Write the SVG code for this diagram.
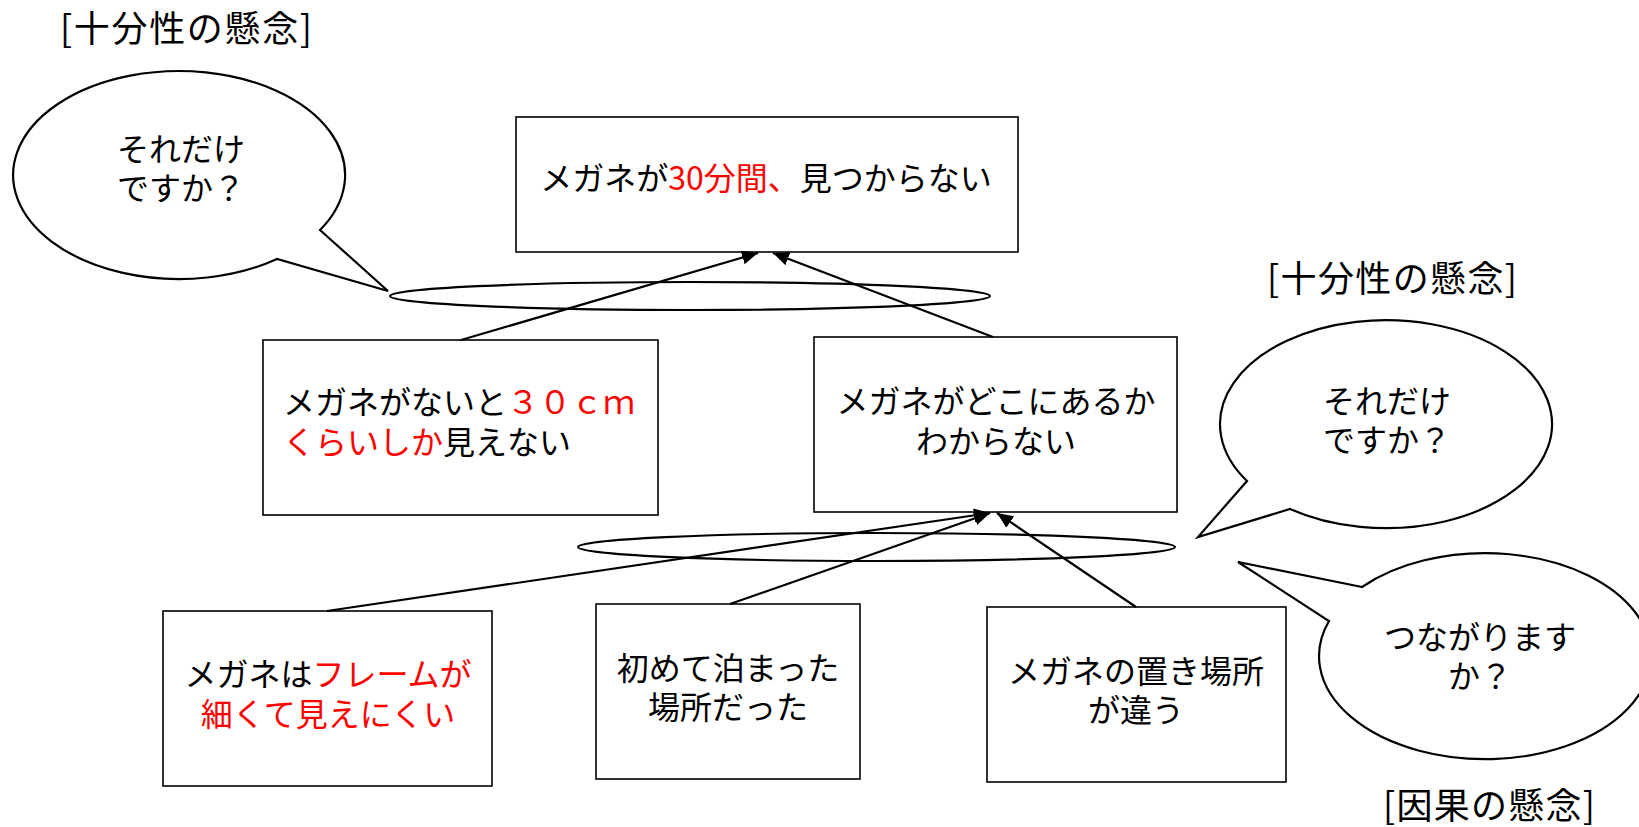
<svg xmlns="http://www.w3.org/2000/svg" width="1639" height="827" viewBox="0 0 1639 827">
<defs>
<style>
.box{fill:#fff;stroke:#000;stroke-width:1.6}
.bub{fill:#fff;stroke:#000;stroke-width:2.2;stroke-linejoin:miter}
.ell{fill:none;stroke:#000;stroke-width:2.2}
.con{stroke:#000;stroke-width:2.2;fill:none}
text{font-family:"Noto Sans CJK JP","Liberation Sans",sans-serif;fill:#000}
.t{font-size:32px}
.c{text-anchor:middle}
.ttl{font-size:36px}
.r{fill:#ff0000}
.k{fill:#000}
</style>
<marker id="ah" markerUnits="userSpaceOnUse" markerWidth="16" markerHeight="14" viewBox="0 0 16 14" refX="16" refY="7" orient="auto">
<path d="M0,0 L16,7 L0,14 z" fill="#000"/>
</marker>
</defs>
<rect width="1639" height="827" fill="#fff"/>

<g id="title-sufficiency-1"><text class="ttl" x="60" y="42" textLength="252" lengthAdjust="spacing">[十分性の懸念]</text></g>
<g id="title-sufficiency-2"><text class="ttl" x="1267" y="292" textLength="250" lengthAdjust="spacing">[十分性の懸念]</text></g>
<g id="title-causal"><text class="ttl" x="1383" y="819" textLength="212" lengthAdjust="spacing">[因果の懸念]</text></g>

<g id="bubble-left">
<path class="bub" d="M320,230 L388,291 L277,259 A166 104 0 1 1 320,230 Z"/>
<text class="t c"><tspan x="181" y="161">それだけ</tspan><tspan x="181" y="200">ですか？</tspan></text>
</g>

<g id="node-top">
<rect class="box" x="516" y="117" width="502" height="135"/>
<text class="t c" x="766" y="190">メガネが<tspan class="r">30分間、</tspan>見つからない</text>
</g>

<g id="node-mid-left">
<rect class="box" x="263" y="340" width="395" height="175"/>
<text class="t"><tspan x="283" y="414">メガネがないと</tspan><tspan class="r">３０ｃｍ</tspan><tspan class="r" x="283" y="454">くらいしか</tspan><tspan class="k">見えない</tspan></text>
</g>

<g id="node-mid-right">
<rect class="box" x="814" y="337" width="363" height="175"/>
<text class="t c"><tspan x="996" y="413">メガネがどこにあるか</tspan><tspan x="996" y="453">わからない</tspan></text>
</g>

<g id="bubble-right">
<path class="bub" d="M1247,481 L1198,537 L1290,509 A166 104 0 1 0 1247,481 Z"/>
<text class="t c"><tspan x="1387" y="413">それだけ</tspan><tspan x="1387" y="452">ですか？</tspan></text>
</g>

<g id="bubble-causal">
<path class="bub" d="M1362,587 L1238,562 L1329,621 A166 103 0 1 0 1362,587 Z"/>
<text class="t c"><tspan x="1480" y="649">つながります</tspan><tspan x="1480" y="688">か？</tspan></text>
</g>

<g id="node-bottom-left">
<rect class="box" x="163" y="611" width="329" height="175"/>
<text class="t c"><tspan x="328" y="686">メガネは</tspan><tspan class="r">フレームが</tspan><tspan class="r" x="328" y="726">細くて見えにくい</tspan></text>
</g>

<g id="node-bottom-mid">
<rect class="box" x="596" y="604" width="264" height="175"/>
<text class="t c"><tspan x="728" y="680">初めて泊まった</tspan><tspan x="728" y="719">場所だった</tspan></text>
</g>

<g id="node-bottom-right">
<rect class="box" x="987" y="607" width="299" height="175"/>
<text class="t c"><tspan x="1136" y="683">メガネの置き場所</tspan><tspan x="1136" y="722">が違う</tspan></text>
</g>

<g id="connectors">
<ellipse class="ell" cx="690" cy="296" rx="300" ry="14"/>
<ellipse class="ell" cx="876.5" cy="547" rx="298.5" ry="14"/>
<line class="con" x1="461" y1="340" x2="758" y2="253" marker-end="url(#ah)"/>
<line class="con" x1="993" y1="337" x2="773" y2="253" marker-end="url(#ah)"/>
<line class="con" x1="327" y1="611" x2="990" y2="513" marker-end="url(#ah)"/>
<line class="con" x1="730" y1="604" x2="990" y2="513" marker-end="url(#ah)"/>
<line class="con" x1="1136" y1="607" x2="997" y2="513" marker-end="url(#ah)"/>
</g>
</svg>
